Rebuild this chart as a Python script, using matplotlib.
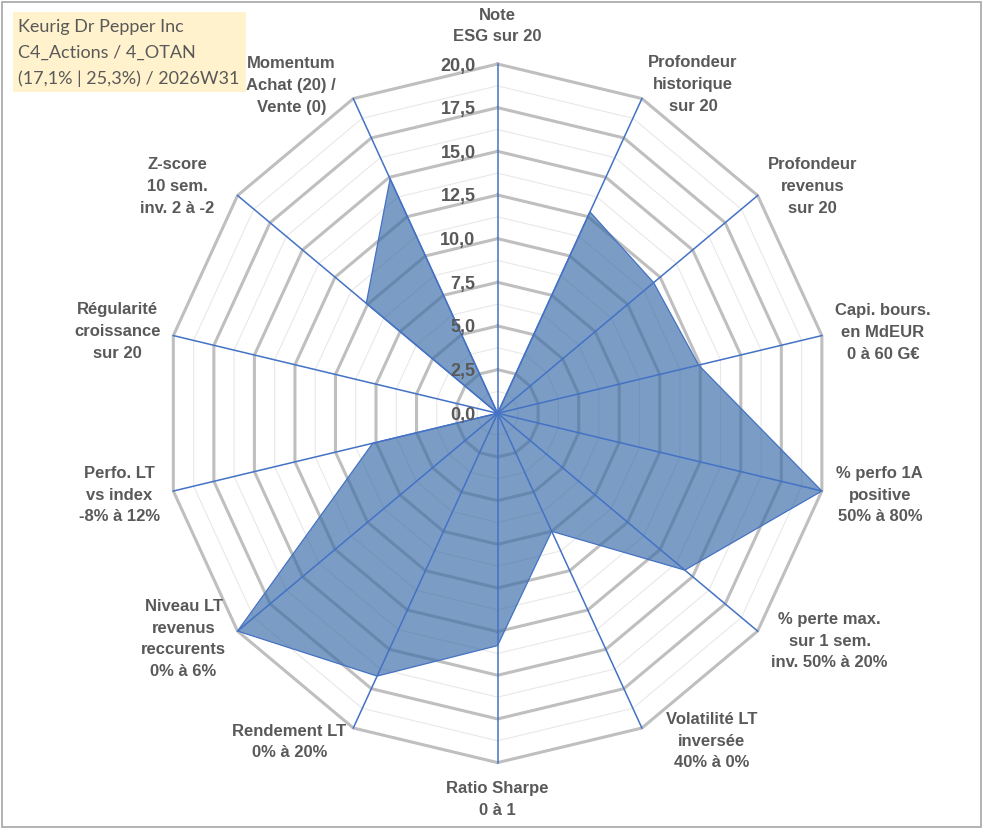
import numpy as np
import matplotlib
matplotlib.use("Agg")
import matplotlib.pyplot as plt
from matplotlib.patches import Rectangle

# axes of the radar, clockwise from the top
labels = ["Note\nESG sur 20", "Profondeur\nhistorique\nsur 20", "Profondeur\nrevenus\nsur 20",
          "Capi. bours.\nen MdEUR\n0 à 60 G€", "% perfo 1A\npositive\n50% à 80%",
          "% perte max.\nsur 1 sem.\ninv. 50% à 20%", "Volatilité LT\ninversée\n40% à 0%",
          "Ratio Sharpe\n0 à 1", "Rendement LT\n0% à 20%",
          "Niveau LT\nrevenus\nreccurents\n0% à 6%", "Perfo. LT\nvs index\n-8% à 12%",
          "Régularité\ncroissance\nsur 20", "Z-score\n10 sem.\ninv. 2 à -2",
          "Momentum\nAchat (20) /\nVente (0)"]
values = [0, 12.8, 12.0, 12.4, 20, 14.4, 7.5, 13.3, 16.7, 20, 7.7, 0, 10.1, 14.9]
ticks = [0, 2.5, 5, 7.5, 10, 12.5, 15, 17.5, 20]
tick_labels = ["0,0", "2,5", "5,0", "7,5", "10,0", "12,5", "15,0", "17,5", "20,0"]
title_lines = ["Keurig Dr Pepper Inc", "C4_Actions / 4_OTAN", "(17,1% | 25,3%) / 2026W31"]

# label offsets from the outer vertex, in pixels (x right, y down)
label_offsets = [(0, -38), (51, -14), (55, -9), (61, -3), (58, 4), (72, 10), (70, 13),
                 (0, 37), (-64, 14), (-54, 8), (-54, 4), (-56, -4), (-60, -9), (-62, -13)]

W, H = 991, 830
grey_txt = "#595959"
n = len(labels)
angles = np.arange(n) * 2 * np.pi / n
closed = np.append(angles, angles[0])

fig = plt.figure(figsize=(W / 100, H / 100), dpi=100)

# chart centre (497.6, 413.3) px, radius 332.6 px across, 349.3 px up/down
cx, cy, rx, ry = 497.6, 413.3, 332.6, 349.3
ax = fig.add_axes([(cx - rx) / W, 1 - (cy + ry) / H, 2 * rx / W, 2 * ry / H], projection="polar")
ax.set_aspect("auto")
ax.set_theta_zero_location("N")
ax.set_theta_direction(-1)
ax.set_ylim(0, 20)
ax.set_xticks([])
ax.set_yticks([])
ax.grid(False)
ax.spines["polar"].set_visible(False)

# polygon grid
for r in np.arange(1.25, 20, 2.5):
    ax.plot(closed, [r] * (n + 1), color="#E8E8E8", lw=0.8, clip_on=False, zorder=1)
for r in ticks[1:]:
    ax.plot(closed, [r] * (n + 1), color="#BFBFBF", lw=2.2, clip_on=False, zorder=2)

# data
vals = np.append(values, values[0])
ax.fill(closed, vals, facecolor="#3C6EA8", alpha=0.68, zorder=3)
ax.plot(closed, vals, color="#4472C4", lw=0.9, zorder=4)

# spokes
for a in angles:
    ax.plot([a, a], [0, 20], color="#4472C4", lw=1.1, clip_on=False, zorder=5)

for r, t in zip(ticks, tick_labels):
    ax.annotate(t, xy=(0, r), xytext=(-22, -2), textcoords="offset pixels",
                ha="right", va="center", fontsize=13, fontweight="bold",
                color=grey_txt, family="Liberation Sans", zorder=6)

for a, lab, (dx, dy) in zip(angles, labels, label_offsets):
    ax.annotate(lab, xy=(a, 20), xytext=(dx, -dy), textcoords="offset pixels",
                ha="center", va="center", multialignment="center", fontsize=12,
                fontweight="bold", color=grey_txt, family="Liberation Sans",
                linespacing=1.55, annotation_clip=False)

# title box
fig.patches.append(Rectangle((12.7 / W, 1 - 91.7 / H), (246 - 12.7) / W, 80 / H,
                             transform=fig.transFigure, facecolor="#FFF2CC",
                             edgecolor="none", zorder=0))
for i, line in enumerate(title_lines):
    fig.text(18 / W, 1 - (27 + 26 * i) / H, line, ha="left", va="center",
             fontsize=13, color=grey_txt, family="Lato")

# outer frame
fig.patches.append(Rectangle((1.7 / W, 1 - 827 / H), (980.7 - 1.7) / W, (827 - 1.7) / H,
                             transform=fig.transFigure, facecolor="none",
                             edgecolor="#A6A6A6", lw=1.2, zorder=0))

fig.savefig("out.png", dpi=100)
